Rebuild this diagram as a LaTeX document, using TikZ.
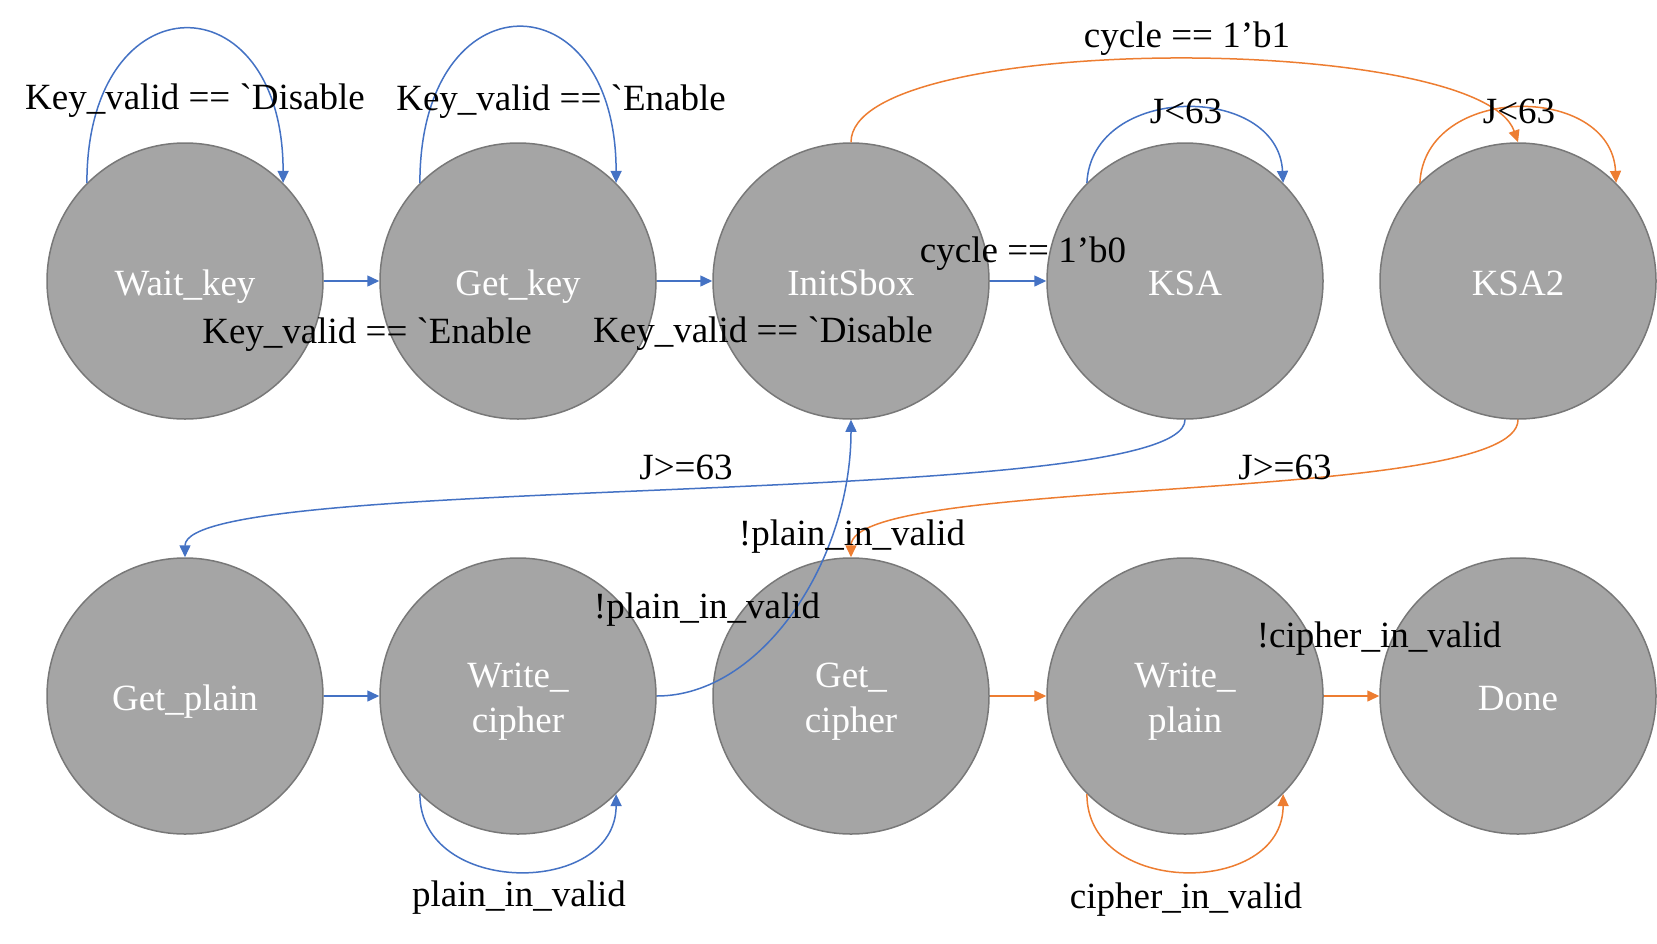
\documentclass[tikz,border=0pt]{standalone}
\usepackage{fontspec}
\setmainfont{Liberation Serif}[Ligatures=TeXOff]
\usetikzlibrary{arrows.meta}
\definecolor{eblue}{HTML}{4472C4}
\definecolor{eorange}{HTML}{ED7D31}
\definecolor{sfill}{HTML}{A5A5A5}
\definecolor{sdraw}{HTML}{787878}
\begin{document}
\begin{tikzpicture}[x=1pt,y=-1pt,
  state/.style={circle, fill=sfill, draw=sdraw, line width=1.5pt, minimum size=276pt,
    inner sep=0pt, text=white, font=\fontsize{37}{45}\selectfont, text height=36pt, text depth=8pt},
  statetwo/.style={state, text height=81pt, text depth=8pt},
  lbl/.style={font=\fontsize{37}{45}\selectfont, inner sep=0pt, anchor=base, text=black},
  bl/.style={draw=eblue, line width=1.5pt, -{Triangle[length=12pt,width=11pt]}},
  og/.style={draw=eorange, line width=1.5pt, -{Triangle[length=12pt,width=11pt]}}]
\useasboundingbox (0,0) rectangle (1657,943);
% states
\node[state] (wk) at (185,281) {Wait\_key};
\node[state] (gk) at (518,281) {Get\_key};
\node[state] (is) at (851,281) {InitSbox};
\node[state] (ksa) at (1185,281) {KSA};
\node[state] (ksa2) at (1518,281) {KSA2};
\node[state] (gp) at (185,696) {Get\_plain};
\node[statetwo] (wc) at (518,696) {\begin{tabular}[b]{@{}c@{}}Write\_\\cipher\end{tabular}};
\node[statetwo] (gc) at (851,696) {\begin{tabular}[b]{@{}c@{}}Get\_\\cipher\end{tabular}};
\node[statetwo] (wp) at (1185,696) {\begin{tabular}[b]{@{}c@{}}Write\_\\plain\end{tabular}};
\node[state] (dn) at (1518,696) {Done};
% straight transitions
\draw[bl] (wk) -- (gk);
\draw[bl] (gk) -- (is);
\draw[bl] (is) -- (ksa);
\draw[bl] (gp) -- (wc);
\draw[og] (gc) -- (wp);
\draw[og] (wp) -- (dn);
% self loops
\draw[bl] (wk.135) .. controls +(0,-205) and +(0,-205) .. (wk.45);
\draw[bl] (gk.135) .. controls +(0,-207) and +(0,-207) .. (gk.45);
\draw[bl] (ksa.135) .. controls +(5,-100) and +(-5,-100) .. (ksa.45);
\draw[og] (ksa2.135) .. controls +(5,-100) and +(-5,-100) .. (ksa2.45);
\draw[bl] (wc.225) .. controls +(0,103) and +(0,103) .. (wc.315);
\draw[og] (wp.225) .. controls +(0,103) and +(0,103) .. (wp.315);
% long transitions
\draw[og] (is.90) .. controls +(0,-111) and +(-38,-110) .. (ksa2.90);
\draw[bl] (ksa.270) .. controls +(0,91) and +(0,-86) .. (gp.90);
\draw[og] (ksa2.270) .. controls +(0,86) and +(0,-83) .. (gc.90);
\draw[bl] (wc.0) .. controls +(105,0) and +(0,141) .. (is.270);
% labels
\node[lbl] (l1) at (195,109) {Key\_valid == `Disable};
\node[lbl] (l2) at (561,110) {Key\_valid == `Enable};
\node[lbl] (l3) at (367,343) {Key\_valid == `Enable};
\node[lbl] (l4) at (763,342) {Key\_valid == `Disable};
\node[lbl] (l5) at (1187,47) {cycle == 1’b1};
\node[lbl] (l6) at (1023,262) {cycle == 1’b0};
\node[lbl] (l7) at (1186,123) {J<63};
\node[lbl] (l8) at (1519,123) {J<63};
\node[lbl] (l9) at (686,479) {J>=63};
\node[lbl] (l10) at (1285,479) {J>=63};
\node[lbl] (l11) at (852,545) {!plain\_in\_valid};
\node[lbl] (l12) at (707,618) {!plain\_in\_valid};
\node[lbl] (l13) at (519,906) {plain\_in\_valid};
\node[lbl] (l14) at (1379,647) {!cipher\_in\_valid};
\node[lbl] (l15) at (1186,908) {cipher\_in\_valid};
\end{tikzpicture}
\end{document}
